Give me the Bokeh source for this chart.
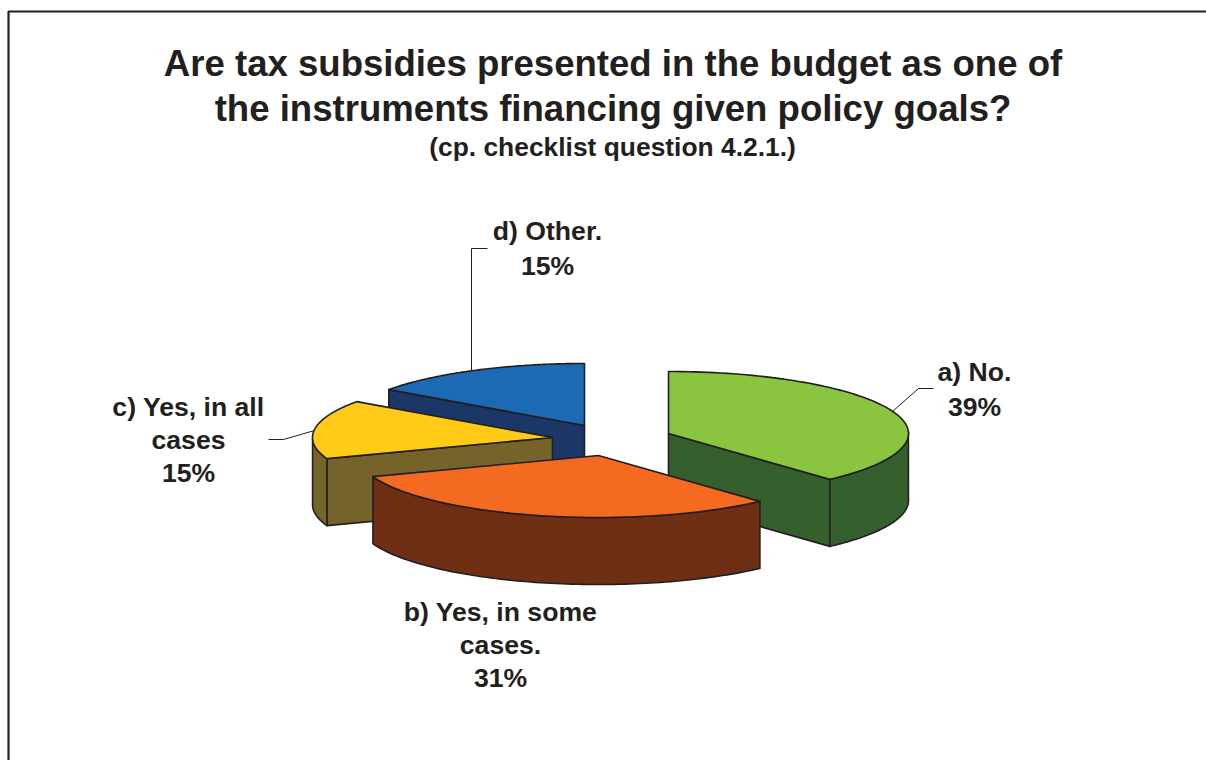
import numpy as np
from bokeh.core.properties import value
from bokeh.embed import file_html
from bokeh.models import Range1d
from bokeh.plotting import figure
from bokeh.resources import INLINE

# Survey answers and their shares in percent
categories = ["a) No.", "b) Yes, in some cases.", "c) Yes, in all cases", "d) Other."]
shares = [39, 31, 15, 15]
title_lines = [
    "Are tax subsidies presented in the budget as one of",
    "the instruments financing given policy goals?",
]
subtitle = "(cp. checklist question 4.2.1.)"

# Slice colours: lit top face and shaded wall
top_colors = ["#8AC53F", "#F46A21", "#FFCB18", "#1C6AB3"]
wall_colors = ["#365F2E", "#6E2F14", "#74642A", "#1B3767"]
INK = "#231F20"

# Pie layout in page pixels: exploded slice apexes, ellipse radii, extrusion depth
apexes = [(668, 433), (598, 455), (552, 437), (584, 425)]
RX, RY, DEPTH = 240, 62, 67
# Slight angular skew of the tilted view, in degrees
VIEW_SKEW = 1.5

# Label text lines with their centre positions
label_lines = [
    ("a) No.", 974, 371), ("39%", 974, 406),
    ("b) Yes, in some", 500, 611), ("cases.", 500, 644), ("31%", 500, 677),
    ("c) Yes, in all", 188, 406), ("cases", 188, 439), ("15%", 188, 472),
    ("d) Other.", 547, 230), ("15%", 547, 265),
]
leaders = [
    ([892, 918, 933], [411, 388, 388]),
    ([268, 283, 314], [439, 439, 430]),
    ([471, 471, 487], [370, 248, 248]),
]

p = figure(
    width=1206, height=760, output_backend="svg", toolbar_location=None,
    x_range=Range1d(0, 1206), y_range=Range1d(760, 0),
    x_axis_type=None, y_axis_type=None, min_border=0,
    outline_line_color=None, background_fill_color="white",
    border_fill_color="white",
)
p.grid.visible = False

# Open frame running off the right and bottom of the page
p.line([8, 8, 1206], [760, 11, 11], line_color=INK, line_width=2.2)


def rim(apex, a0, a1, n=90):
    """Rim points of the ellipse, angles measured clockwise from the top."""
    t = np.radians(np.linspace(a0, a1, n))
    t = t - np.radians(VIEW_SKEW) * (1 - np.cos(t))
    return apex[0] + RX * np.sin(t), apex[1] - RY * np.cos(t)


# Cumulative clockwise start and end angle of every slice
edges = np.cumsum([0] + shares) * 3.6
spans = list(zip(edges[:-1], edges[1:]))

# Back-to-front painting: d, c, a, b
for i in [3, 2, 0, 1]:
    a0, a1 = spans[i]
    apex = apexes[i]
    x, y = rim(apex, a0, a1)

    # Straight cut walls seen from the front
    walls = []
    if i == 0:
        walls.append((a1, apex))
    if i == 2:
        walls.append((a0, apex))
    if i == 3:
        walls.append((a0, apex))
    for ang, ap in walls:
        ex, ey = rim(ap, ang, ang, 1)
        p.patch(
            [ap[0], ex[0], ex[0], ap[0]],
            [ap[1], ey[0], ey[0] + DEPTH, ap[1] + DEPTH],
            fill_color=wall_colors[i], line_color=INK, line_width=1.6,
            line_join="round",
        )

    # Curved outer wall on the part of the rim that faces the viewer
    lo, hi = max(a0, 90), min(a1, 270)
    if lo < hi:
        wx, wy = rim(apex, lo, hi)
        p.patch(
            np.r_[wx, wx[::-1]], np.r_[wy, wy[::-1] + DEPTH],
            fill_color=wall_colors[i], line_color=INK, line_width=1.6,
            line_join="round",
        )

    # Top face
    p.patch(
        np.r_[apex[0], x], np.r_[apex[1], y],
        fill_color=top_colors[i], line_color=INK, line_width=1.6,
        line_join="round",
    )

# Leader lines between slices and their labels
for lx, ly in leaders:
    p.line(lx, ly, line_color=INK, line_width=1)

font = value("Liberation Sans")
p.text(
    x=[612.5, 612.5], y=[63, 108], text=title_lines, text_font=font,
    text_font_style="bold", text_font_size="36.6px", text_color=INK,
    text_align="center", text_baseline="middle",
)
p.text(
    x=[612], y=[146], text=[subtitle], text_font=font,
    text_font_style="bold", text_font_size="26.4px", text_color=INK,
    text_align="center", text_baseline="middle",
)
p.text(
    x=[t[1] for t in label_lines], y=[t[2] for t in label_lines],
    text=[t[0] for t in label_lines], text_font=font,
    text_font_style="bold", text_font_size="26.6px", text_color=INK,
    text_align="center", text_baseline="middle",
)

open("out.html", "w").write(file_html(p, INLINE))
